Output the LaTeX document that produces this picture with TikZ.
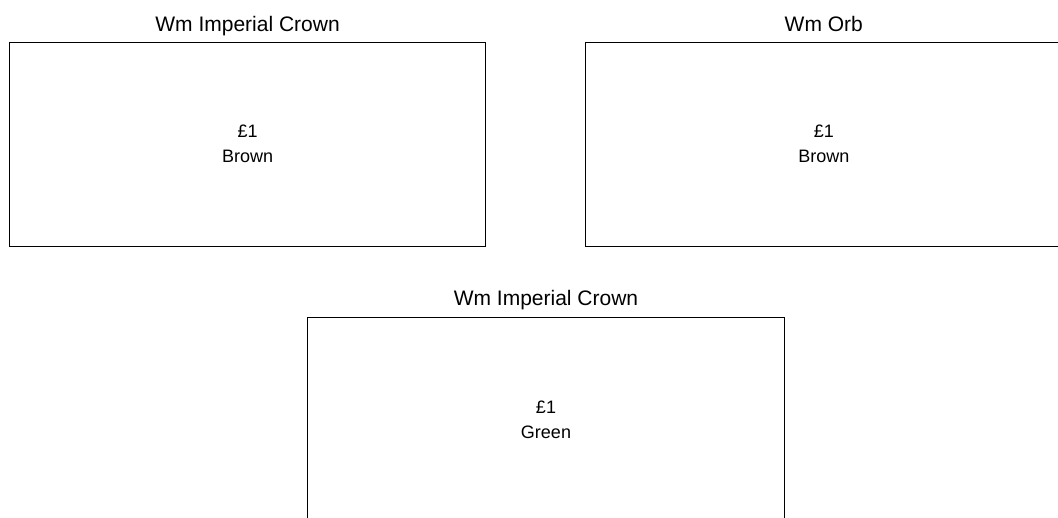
\documentclass[tikz,border=0pt]{standalone}
\usepackage{fontspec}
\setmainfont{Liberation Sans}
\begin{document}
\begin{tikzpicture}[x=1pt,y=-1pt,
  box/.style={draw=black, line width=1pt, inner sep=0pt, outer sep=0pt,
    minimum width=476.2pt, minimum height=204pt, align=center,
    font=\fontsize{18}{25}\selectfont},
  boxtitle/.style={anchor=base, inner sep=0pt, yshift=11pt,
    font=\fontsize{21}{25}\selectfont}]
\useasboundingbox (0,0) rectangle (1058,517);
\clip (0,0) rectangle (1058,517);
\node[box] (a) at (247.6,144) {£1\\Brown};
\node[box] (b) at (823.8,144) {£1\\Brown};
\node[box] (c) at (546,419.3) {£1\\Green};
\node[boxtitle] (ta) at (a.north) {Wm Imperial Crown};
\node[boxtitle] (tb) at (b.north) {Wm Orb};
\node[boxtitle, yshift=1pt] (tc) at (c.north) {Wm Imperial Crown};
\end{tikzpicture}
\end{document}
